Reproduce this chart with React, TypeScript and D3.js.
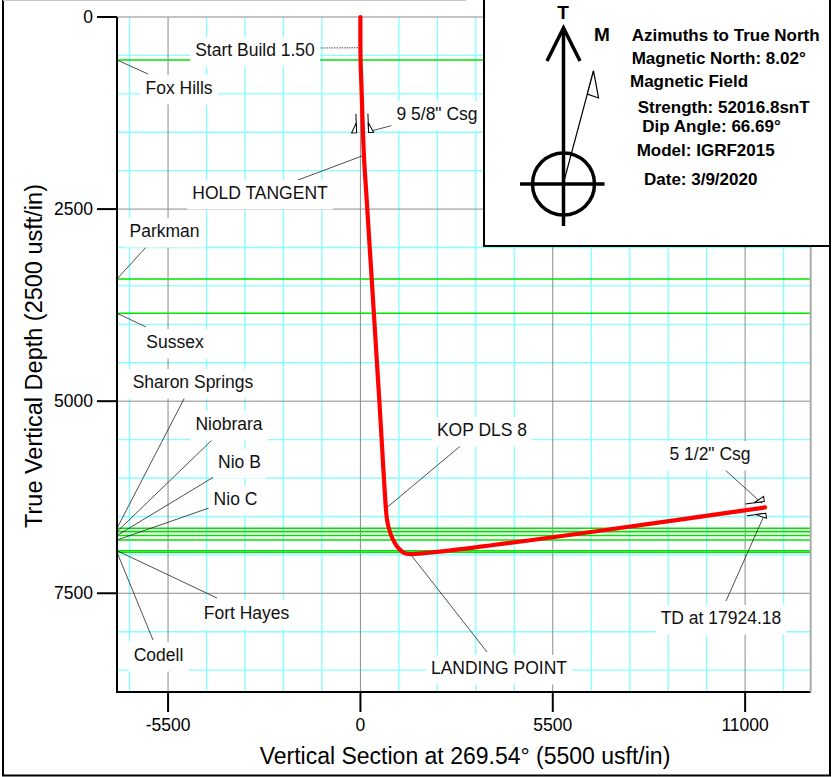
import { useEffect, useRef } from 'react';
import * as d3 from 'd3';

// well path: vertical section (usft) / TVD (usft)
const pathVS = [0, 0, 10, 30, 100, 180, 540, 728, 760, 810, 925, 1075, 1245, 1430, 11570];
const pathTVD = [0, 400, 650, 900, 1800, 2380, 4985, 6395, 6540, 6650, 6795, 6905, 6975, 6990, 6382];

// formation tops (TVD)
const formationNames = ['Fox Hills', 'Parkman', 'Sussex', 'Sharon Springs', 'Niobrara', 'Nio B', 'Nio C', 'Fort Hayes', 'Codell'];
const formationTVD = [560, 3410, 3856, 6654, 6698, 6748, 6807, 6946, 6967];

// plan annotations
const annotNames = ['Start Build 1.50', 'HOLD TANGENT', 'KOP DLS 8', 'LANDING POINT', 'TD at 17924.18'];
const annotVS = [0, 100, 728, 1430, 11570];
const annotTVD = [400, 1800, 6395, 6990, 6382];

// casing points
const casingNames = ['9 5/8" Csg', '5 1/2" Csg'];
const casingVS = [62, 11570];
const casingTVD = [1505, 6382];

const xTicks = [-5500, 0, 5500, 11000];
const yTicks = [0, 2500, 5000, 7500];

const infoLines = [
  'Azimuths to True North',
  'Magnetic North: 8.02°',
  'Magnetic Field',
  'Strength: 52016.8snT',
  'Dip Angle: 66.69°',
  'Model: IGRF2015',
  'Date: 3/9/2020',
];

// ---- layout (pixels) ----
const W = 832;
const H = 777;
const plot = { left: 117, right: 810.7, top: 17, bottom: 692 };
const xDomain = [-6960, 12875];
const yDomain = [0, 8785];
const FONT = '"Liberation Sans", Arial, sans-serif';

// label centre x, centre y, leader start x, leader start y
const formationLabelAt = [
  [179, 88, 148, 74],
  [164.5, 231, 148, 245],
  [175, 342, 146, 327],
  [193, 382, 186, 395],
  [229, 424, 213, 439],
  [239.5, 462, 217, 475],
  [235.5, 499, 209, 508],
  [246.5, 613, 217, 598],
  [158.5, 655, 153, 640],
];
// label cx, cy, leader start x, y, leader end offset dx, dy
const annotLabelAt = [
  [255, 50, 319, 48, 0, 0],
  [260, 193, 298, 180, 0, 0],
  [482, 430, 464, 443, 0, 0],
  [499, 668, 487, 652, 0, 0],
  [721, 618, 726, 601, 0, 6],
];
const casingLabelAt = [
  [437, 114, 392, 125.5, 8, -1.5],
  [710, 454, 723, 468, -3, -4],
];
const infoAt = [
  [631.7, 35.7],
  [631.7, 58.5],
  [630, 81.7],
  [637.7, 107],
  [642.3, 126.7],
  [636.7, 150],
  [644, 179],
];

function label(g: any, text: string, cx: number, cy: number) {
  const grp = g.append('g');
  const t = grp
    .append('text')
    .attr('x', cx)
    .attr('y', cy)
    .attr('text-anchor', 'middle')
    .attr('dominant-baseline', 'central')
    .attr('font-family', FONT)
    .attr('font-size', 17.5)
    .attr('fill', '#111')
    .text(text);
  const bb = (t.node() as SVGTextElement).getBBox();
  grp
    .insert('rect', 'text')
    .attr('x', bb.x - 5)
    .attr('y', cy - 13)
    .attr('width', bb.width + 10)
    .attr('height', 29.5)
    .attr('fill', '#fff');
}

export default function App() {
  const ref = useRef<SVGSVGElement>(null);

  useEffect(() => {
    const svg = d3.select(ref.current);
    svg.selectAll('*').remove();

    const x = d3.scaleLinear().domain(xDomain).range([plot.left, plot.right]);
    const y = d3.scaleLinear().domain(yDomain).range([plot.top, plot.bottom]);

    // minor grid
    const grid = svg.append('g');
    const xMinor = d3.range(-6600, 12101, 1100).filter((v) => v % 5500 !== 0);
    const yMinor = d3.range(500, 8785, 500).filter((v) => v % 2500 !== 0);
    grid
      .selectAll('.xm')
      .data(xMinor)
      .join('line')
      .attr('x1', (d) => x(d))
      .attr('x2', (d) => x(d))
      .attr('y1', plot.top)
      .attr('y2', plot.bottom)
      .attr('stroke', '#88ffff')
      .attr('stroke-width', 1.4);
    grid
      .selectAll('.ym')
      .data(yMinor)
      .join('line')
      .attr('x1', plot.left)
      .attr('x2', plot.right)
      .attr('y1', (d) => y(d))
      .attr('y2', (d) => y(d))
      .attr('stroke', '#88ffff')
      .attr('stroke-width', 1.4);
    // major grid
    grid
      .selectAll('.xM')
      .data(xTicks)
      .join('line')
      .attr('x1', (d) => x(d))
      .attr('x2', (d) => x(d))
      .attr('y1', plot.top)
      .attr('y2', plot.bottom)
      .attr('stroke', '#8a8a8a')
      .attr('stroke-width', 1);
    grid
      .selectAll('.yM')
      .data(yTicks)
      .join('line')
      .attr('x1', plot.left)
      .attr('x2', plot.right)
      .attr('y1', (d) => y(d))
      .attr('y2', (d) => y(d))
      .attr('stroke', '#8a8a8a')
      .attr('stroke-width', 1);

    // formation tops
    svg
      .append('g')
      .selectAll('line')
      .data(formationTVD)
      .join('line')
      .attr('x1', plot.left)
      .attr('x2', plot.right)
      .attr('y1', (d) => y(d))
      .attr('y2', (d) => y(d))
      .attr('stroke', '#00e400')
      .attr('stroke-width', 1.6);

    // leaders
    const leaders = svg.append('g').attr('stroke', '#222').attr('stroke-width', 0.8);
    formationTVD.forEach((tvd, i) => {
      const p = formationLabelAt[i];
      leaders.append('line').attr('x1', p[2]).attr('y1', p[3]).attr('x2', plot.left).attr('y2', y(tvd));
    });
    annotNames.forEach((_, i) => {
      const p = annotLabelAt[i];
      const l = leaders
        .append('line')
        .attr('x1', p[2])
        .attr('y1', p[3])
        .attr('x2', x(annotVS[i]) + p[4])
        .attr('y2', y(annotTVD[i]) + p[5]);
      if (i === 0) l.attr('stroke-dasharray', '1.5 1');
    });
    casingNames.forEach((_, i) => {
      const p = casingLabelAt[i];
      leaders
        .append('line')
        .attr('x1', p[2])
        .attr('y1', p[3])
        .attr('x2', x(casingVS[i]) + p[4])
        .attr('y2', y(casingTVD[i]) + p[5]);
    });

    // well path
    const pts: [number, number][] = pathVS.map((v, i) => [v, pathTVD[i]]);
    const line = d3
      .line<[number, number]>()
      .x((d) => x(d[0]))
      .y((d) => y(d[1]))
      .curve(d3.curveCatmullRom.alpha(0.5));
    svg
      .append('path')
      .datum(pts)
      .attr('d', line)
      .attr('fill', 'none')
      .attr('stroke', '#ff0000')
      .attr('stroke-width', 4.2)
      .attr('stroke-linecap', 'round');

    // casing shoe symbols, oriented along the hole
    const pix = pts.map((d) => [x(d[0]), y(d[1])]);
    casingNames.forEach((_, i) => {
      const cx = x(casingVS[i]);
      const cy = y(casingTVD[i]);
      let k = 0;
      let best = Infinity;
      pix.forEach((p, j) => {
        const dd = Math.hypot(p[0] - cx, p[1] - cy);
        if (dd < best && j > 0) {
          best = dd;
          k = j;
        }
      });
      const ang = (Math.atan2(pix[k][1] - pix[k - 1][1], pix[k][0] - pix[k - 1][0]) * 180) / Math.PI;
      const g = svg
        .append('g')
        .attr('transform', `translate(${cx},${cy}) rotate(${ang - 90})`)
        .attr('stroke', '#000')
        .attr('stroke-width', 1)
        .attr('fill', '#fff');
      [-1, 1].forEach((s) => {
        g.append('line').attr('x1', s * 6).attr('y1', -19).attr('x2', s * 6).attr('y2', 0);
        g.append('path').attr('d', `M${s * 6},-10 L${s * 6},0 L${s * 11},0 Z`);
      });
    });

    // labels
    const labels = svg.append('g');
    formationNames.forEach((n, i) => label(labels, n, formationLabelAt[i][0], formationLabelAt[i][1]));
    annotNames.forEach((n, i) => label(labels, n, annotLabelAt[i][0], annotLabelAt[i][1]));
    casingNames.forEach((n, i) => label(labels, n, casingLabelAt[i][0], casingLabelAt[i][1]));

    // axes
    const axes = svg.append('g').attr('stroke', '#000').attr('stroke-width', 2);
    axes.append('line').attr('x1', plot.left).attr('x2', plot.left).attr('y1', plot.top).attr('y2', plot.bottom + 1);
    axes.append('line').attr('x1', plot.left - 1).attr('x2', plot.right).attr('y1', plot.bottom).attr('y2', plot.bottom);
    svg
      .append('line')
      .attr('x1', plot.right)
      .attr('x2', plot.right)
      .attr('y1', plot.top)
      .attr('y2', plot.bottom)
      .attr('stroke', '#aaa')
      .attr('stroke-width', 2);
    yTicks.forEach((t) => {
      axes.append('line').attr('x1', plot.left - 20).attr('x2', plot.left).attr('y1', y(t)).attr('y2', y(t));
      svg
        .append('text')
        .attr('x', plot.left - 24)
        .attr('y', y(t))
        .attr('text-anchor', 'end')
        .attr('dominant-baseline', 'central')
        .attr('font-family', FONT)
        .attr('font-size', 17.5)
        .text(t);
    });
    xTicks.forEach((t) => {
      axes.append('line').attr('x1', x(t)).attr('x2', x(t)).attr('y1', plot.bottom).attr('y2', plot.bottom + 20);
      svg
        .append('text')
        .attr('x', x(t))
        .attr('y', 725)
        .attr('text-anchor', 'middle')
        .attr('dominant-baseline', 'central')
        .attr('font-family', FONT)
        .attr('font-size', 17.5)
        .text(t);
    });
    svg
      .append('text')
      .attr('x', 465)
      .attr('y', 756)
      .attr('text-anchor', 'middle')
      .attr('dominant-baseline', 'central')
      .attr('font-family', FONT)
      .attr('font-size', 23)
      .text('Vertical Section at 269.54° (5500 usft/in)');
    svg
      .append('text')
      .attr('transform', 'translate(34,356) rotate(-90)')
      .attr('text-anchor', 'middle')
      .attr('dominant-baseline', 'central')
      .attr('font-family', FONT)
      .attr('font-size', 23.5)
      .text('True Vertical Depth (2500 usft/in)');

    // north arrow / magnetic info box
    const box = svg.append('g');
    box
      .append('rect')
      .attr('x', 484)
      .attr('y', -2)
      .attr('width', 346)
      .attr('height', 248)
      .attr('fill', '#fff')
      .attr('stroke', '#000')
      .attr('stroke-width', 2);
    const na = box.append('g').attr('stroke', '#000').attr('stroke-width', 3.5).attr('fill', 'none');
    na.append('line').attr('x1', 563.5).attr('y1', 28).attr('x2', 563.5).attr('y2', 226);
    na.append('path').attr('d', 'M547,61 L563.5,28 L580,61');
    na.append('circle').attr('cx', 563.5).attr('cy', 184).attr('r', 31);
    na.append('line').attr('x1', 520).attr('y1', 184).attr('x2', 604.5).attr('y2', 184);
    const mAng = (15 * Math.PI) / 180;
    const mx = 563.5 + 116 * Math.sin(mAng);
    const my = 183 - 116 * Math.cos(mAng);
    box
      .append('line')
      .attr('x1', 563.5)
      .attr('y1', 183)
      .attr('x2', mx)
      .attr('y2', my)
      .attr('stroke', '#000')
      .attr('stroke-width', 1.2);
    box
      .append('path')
      .attr('d', `M${mx},${my} L${mx + 5},${my + 27} L${mx - 24 * Math.sin(mAng)},${my + 24 * Math.cos(mAng)} Z`)
      .attr('fill', '#fff')
      .attr('stroke', '#000')
      .attr('stroke-width', 1.2);
    box
      .append('text')
      .attr('x', 563)
      .attr('y', 12)
      .attr('text-anchor', 'middle')
      .attr('dominant-baseline', 'central')
      .attr('font-family', FONT)
      .attr('font-weight', 'bold')
      .attr('font-size', 19)
      .text('T');
    box
      .append('text')
      .attr('x', 602)
      .attr('y', 34)
      .attr('text-anchor', 'middle')
      .attr('dominant-baseline', 'central')
      .attr('font-family', FONT)
      .attr('font-weight', 'bold')
      .attr('font-size', 19)
      .text('M');
    infoLines.forEach((s, i) => {
      box
        .append('text')
        .attr('x', infoAt[i][0])
        .attr('y', infoAt[i][1])
        .attr('dominant-baseline', 'central')
        .attr('font-family', FONT)
        .attr('font-weight', 'bold')
        .attr('font-size', 17)
        .text(s);
    });

    // outer frame
    const frame = svg.append('g').attr('stroke', '#000').attr('stroke-width', 2);
    frame.append('line').attr('x1', 3).attr('x2', 3).attr('y1', 0).attr('y2', 776);
    frame.append('line').attr('x1', 2).attr('x2', 831).attr('y1', 775.5).attr('y2', 775.5);
    frame.append('line').attr('x1', 830).attr('x2', 830).attr('y1', 0).attr('y2', 776);
    svg
      .append('line')
      .attr('x1', 3)
      .attr('x2', 466)
      .attr('y1', 0.5)
      .attr('y2', 0.5)
      .attr('stroke', '#c8c8c8')
      .attr('stroke-width', 1);
  }, []);

  return (
    <div style={{ position: 'absolute', left: 0, top: 0 }}>
      <svg ref={ref} width={W} height={H} style={{ display: 'block', background: '#fff' }} />
    </div>
  );
}
